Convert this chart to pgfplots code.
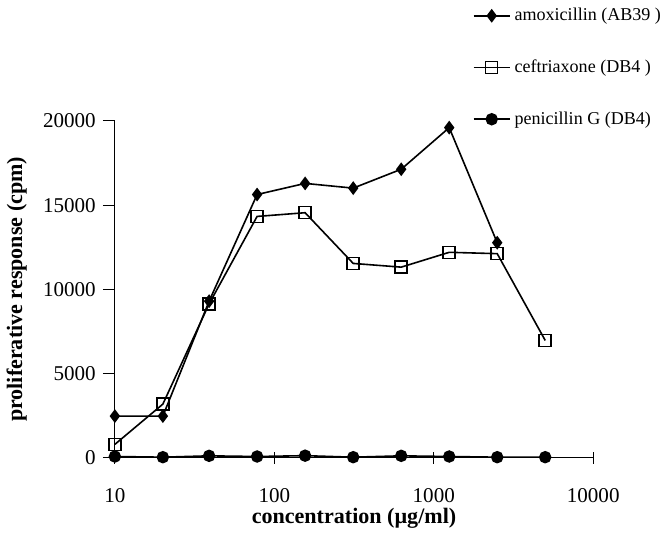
\documentclass[border=0pt]{standalone}
\usepackage{fontspec}
\setmainfont{Liberation Serif}
\usepackage{pgfplots}
\pgfplotsset{compat=1.18}

\begin{document}
\begin{tikzpicture}
\begin{axis}[
  scale only axis,
  width=238.5pt, height=168pt,
  xmode=log, xmin=10, xmax=10000,
  ymin=0, ymax=20000,
  axis x line*=bottom, axis y line*=left,
  axis line style={-, line width=0.5pt},
  xtick={10,100,1000,10000},
  xticklabels={10,100,1000,10000},
  xminorticks=false,
  ytick={0,5000,10000,15000,20000},
  scaled y ticks=false,
  yticklabel style={/pgf/number format/fixed, /pgf/number format/1000 sep={}},
  xticklabel style={yshift=-8.5pt},
  /pgf/number format/assume math mode=true,
  tick label style={font=\fontsize{10.5}{12}\selectfont},
  x tick style={black, line width=0.5pt},
  y tick style={black, line width=0.5pt},
  xtick align=center, ytick align=outside,
  major tick length=6pt,
  xlabel={\textbf{concentration (µg/ml)}},
  ylabel={\textbf{proliferative response (cpm)}},
  label style={font=\fontsize{11}{12}\selectfont},
  xlabel style={at={(axis description cs:0.5,-0.178)}, anchor=center},
  ylabel style={at={(axis description cs:-0.205,0.5)}, anchor=center},
  clip=false,
  legend style={at={(axis description cs:0.735,1.36)}, anchor=north west,
    draw=none, fill=none, row sep=14pt, font=\fontsize{9}{10}\selectfont,
    cells={anchor=west}},
  legend image code/.code={\draw[mark repeat=2,mark phase=2] plot coordinates {(-4pt,0pt)(5pt,0pt)(14pt,0pt)};},
  every axis plot/.append style={black, line width=0.8pt},
]
\addplot[mark=diamond*, mark size=2.8pt] coordinates {
  (10,2480) (20,2480) (39,9300) (78,15630) (156,16290)
  (312.5,16010) (625,17130) (1250,19600) (2500,12770)
};
\addlegendentry{amoxicillin (AB39 )}
\addplot[mark=square, mark size=3pt, mark options={fill=white, line width=0.75pt}] coordinates {
  (10,800) (20,3190) (39,9140) (78,14330) (156,14550)
  (312.5,11540) (625,11320) (1250,12200) (2500,12120) (5000,6970)
};
\addlegendentry{ceftriaxone (DB4 )}
\addplot[mark=*, mark size=2.7pt] coordinates {
  (10,80) (20,40) (39,120) (78,80) (156,130)
  (312.5,40) (625,120) (1250,80) (2500,40) (5000,40)
};
\addlegendentry{penicillin G (DB4)}
\end{axis}
\end{tikzpicture}
\end{document}
